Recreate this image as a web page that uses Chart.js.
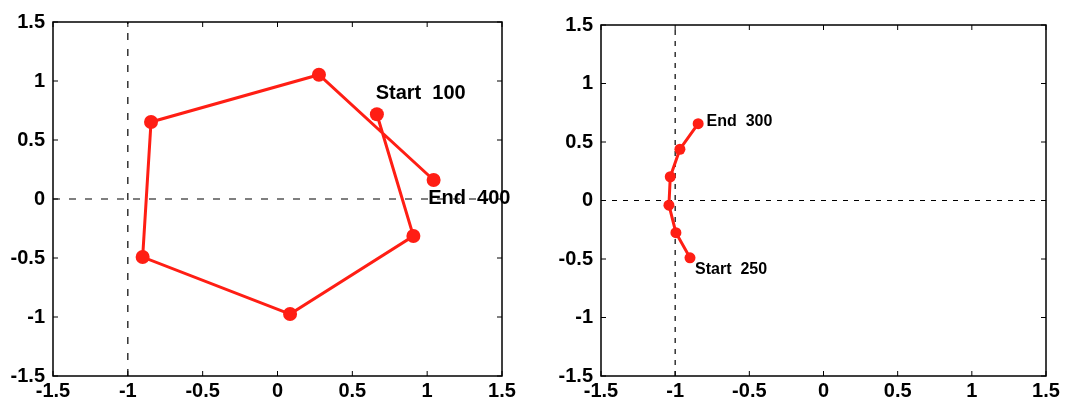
<!DOCTYPE html>
<html>
<head>
<meta charset="utf-8">
<script src="https://cdn.jsdelivr.net/npm/chart.js@4"></script>
<style>
  body { margin: 0; background: #fff; }
  canvas { position: absolute; top: 0; }
</style>
</head>
<body>
<canvas id="izq" width="545" height="399" style="left:0px"></canvas>
<canvas id="der" width="544" height="399" style="left:545px"></canvas>
<script>
// valores de los ejes
let marcas = [-1.5, -1, -0.5, 0, 0.5, 1, 1.5];

// grafica izquierda (100 -> 400)
let x_izq = [0.664, 0.908, 0.084, -0.901, -0.845, 0.277, 1.043];
let y_izq = [0.718, -0.314, -0.975, -0.492, 0.653, 1.053, 0.161];
let textos_izq = ['Start  100', 'End  400'];
let textos_izq_x = [0.656, 1.007];
let textos_izq_y = [0.898, 0.006];

// grafica derecha (250 -> 300)
let x_der = [-0.9, -0.995, -1.042, -1.033, -0.968, -0.845];
let y_der = [-0.49, -0.275, -0.04, 0.203, 0.438, 0.657];
let textos_der = ['End  300', 'Start  250'];
let textos_der_x = [-0.788, -0.866];
let textos_der_y = [0.673, -0.594];

let rojo = 'rgb(255,30,20)';
let fuente = '"Liberation Sans", Arial, sans-serif';

function puntos(xs, ys) {
    let lista = [];
    for (let i = 0; i < xs.length; i++) {
        lista.push({ x: xs[i], y: ys[i] });
    }
    return lista;
}

function crearGrafica(id, xs, ys, textos, tx, ty, cfg) {

    let marco = {
        id: 'marco',
        afterDraw(chart) {
            let ctx = chart.ctx;
            let a = chart.chartArea;
            let sx = chart.scales.x;
            let sy = chart.scales.y;
            ctx.save();
            ctx.strokeStyle = '#000';
            ctx.lineWidth = 1.5;
            ctx.strokeRect(a.left, a.top, a.right - a.left, a.bottom - a.top);
            ctx.lineWidth = 1;
            ctx.beginPath();
            for (let i = 0; i < marcas.length; i++) {
                let px = sx.getPixelForValue(marcas[i]);
                ctx.moveTo(px, a.bottom); ctx.lineTo(px, a.bottom - 5);
                ctx.moveTo(px, a.top); ctx.lineTo(px, a.top + 5);
                let py = sy.getPixelForValue(marcas[i]);
                ctx.moveTo(a.left, py); ctx.lineTo(a.left + 5, py);
                ctx.moveTo(a.right, py); ctx.lineTo(a.right - 5, py);
            }
            ctx.stroke();

            ctx.fillStyle = '#000';
            ctx.font = 'bold ' + cfg.textSize + 'px ' + fuente;
            ctx.textAlign = 'left';
            ctx.textBaseline = 'middle';
            for (let i = 0; i < textos.length; i++) {
                ctx.fillText(textos[i], sx.getPixelForValue(tx[i]), sy.getPixelForValue(ty[i]));
            }
            ctx.restore();
        }
    };

    let ejes = {
        type: 'linear',
        min: -1.5,
        max: 1.5,
        grid: { display: false, drawTicks: false },
        border: { display: false },
        afterBuildTicks: (escala) => {
            escala.ticks = marcas.map(v => ({ value: v }));
        },
        ticks: {
            color: '#000',
            font: { family: fuente, size: 20, weight: 'bold' },
            callback: (v) => String(v),
            maxRotation: 0,
            autoSkip: false
        }
    };

    new Chart(document.getElementById(id), {
        type: 'scatter',
        data: {
            datasets: [
                {
                    data: puntos(xs, ys),
                    showLine: true,
                    borderColor: rojo,
                    backgroundColor: rojo,
                    borderWidth: 3,
                    pointRadius: cfg.radio,
                    pointBorderWidth: 0
                },
                {
                    data: [{ x: -1.5, y: 0 }, { x: 1.5, y: 0 }],
                    showLine: true,
                    borderColor: '#000',
                    borderWidth: 1.2,
                    borderDash: cfg.guiones,
                    pointRadius: 0
                },
                {
                    data: [{ x: -1, y: -1.5 }, { x: -1, y: 1.5 }],
                    showLine: true,
                    borderColor: '#000',
                    borderWidth: 1.2,
                    borderDash: cfg.guiones,
                    pointRadius: 0
                }
            ]
        },
        options: {
            responsive: false,
            maintainAspectRatio: false,
            animation: false,
            events: [],
            layout: { padding: { left: 0, right: cfg.derecha, top: cfg.arriba, bottom: 0 } },
            plugins: { legend: { display: false }, tooltip: { enabled: false } },
            scales: {
                x: Object.assign({}, ejes, {
                    ticks: Object.assign({}, ejes.ticks, { padding: 3 }),
                    afterFit: (e) => { e.height = 399 - cfg.abajo; }
                }),
                y: Object.assign({}, ejes, {
                    ticks: Object.assign({}, ejes.ticks, { padding: 8 }),
                    afterFit: (e) => { e.width = cfg.izquierda; }
                })
            }
        },
        plugins: [marco]
    });
}

crearGrafica('izq', x_izq, y_izq, textos_izq, textos_izq_x, textos_izq_y,
    { izquierda: 53, derecha: 43, arriba: 22, abajo: 376, radio: 7, textSize: 20, guiones: [7, 9] });

crearGrafica('der', x_der, y_der, textos_der, textos_der_x, textos_der_y,
    { izquierda: 56, derecha: 43, arriba: 25, abajo: 376, radio: 5.5, textSize: 16, guiones: [5, 6] });
</script>
</body>
</html>
